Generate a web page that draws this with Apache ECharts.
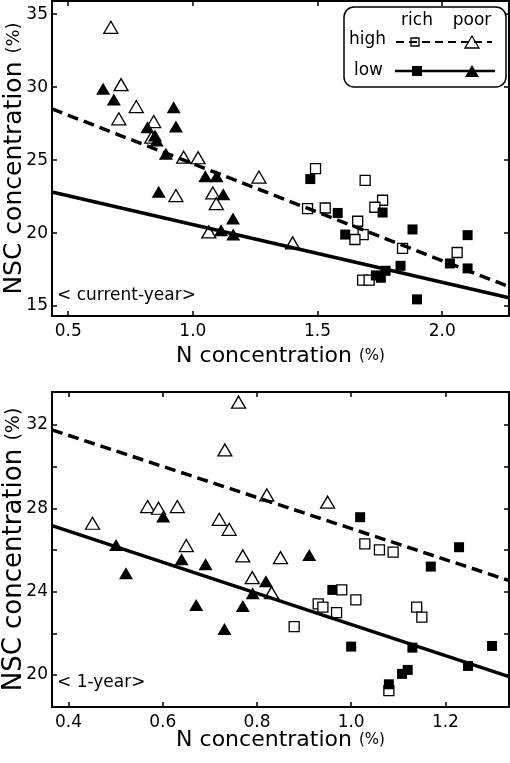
<!DOCTYPE html>
<html><head><meta charset="utf-8">
<script src="https://cdn.jsdelivr.net/npm/echarts@6/dist/echarts.min.js"></script>
<style>html,body{margin:0;padding:0;background:#fff}#c{width:510px;height:763px}</style>
</head><body><div id="c"></div>
<script>
// ---------- data ----------
const topXTicks = [0.5, 1.0, 1.5, 2.0];
const topYTicks = [15, 20, 25, 30, 35];
const botXTicks = [0.4, 0.6, 0.8, 1.0, 1.2];
const botYTicks = [20, 22, 24, 26, 28, 30, 32];
const botYLabels = [20, 24, 28, 32];

// current-year panel
const topHighPoor = [[0.671,34.1],[0.712,30.17],[0.703,27.83],[0.773,28.67],[0.843,27.64],[0.835,26.57],[0.963,25.2],[1.021,25.16],[0.932,22.57],[1.080,22.75],[1.094,22.02],[1.064,20.08],[1.265,23.84],[1.400,19.33]];
const topLowPoor = [[0.640,29.88],[0.683,29.15],[0.818,27.25],[0.848,26.69],[0.855,26.35],[0.892,25.44],[0.923,28.62],[0.932,27.30],[0.863,22.84],[1.050,23.89],[1.095,23.89],[1.122,22.66],[1.161,21.0],[1.113,20.2],[1.162,19.9]];
const topHighRich = [[1.492,24.41],[1.460,21.68],[1.531,21.72],[1.691,23.61],[1.761,22.25],[1.730,21.77],[1.661,20.81],[1.683,19.9],[1.650,19.56],[1.841,18.95],[1.681,16.78],[1.707,16.78],[2.060,18.67]];
const topLowRich = [[1.471,23.70],[1.581,21.38],[1.611,19.9],[1.761,21.41],[1.881,20.25],[1.833,17.76],[1.734,17.1],[1.754,16.94],[1.773,17.42],[1.899,15.46],[2.031,17.92],[2.102,19.86],[2.102,17.58]];
const topLineX = [0.435, 2.268];
const topHighLineY = [28.51, 16.33];
const topLowLineY = [22.81, 15.57];

// 1-year panel
const botHighPoor = [[0.451,27.28],[0.568,28.08],[0.591,28.0],[0.631,28.08],[0.650,26.21],[0.720,27.47],[0.741,26.99],[0.732,30.80],[0.761,33.09],[0.770,25.71],[0.790,24.67],[0.821,28.64],[0.831,23.95],[0.850,25.63],[0.950,28.29]];
const botLowPoor = [[0.501,26.24],[0.522,24.88],[0.601,27.60],[0.640,25.55],[0.691,25.31],[0.671,23.36],[0.731,22.21],[0.770,23.31],[0.791,23.92],[0.819,24.50],[0.911,25.76]];
const botHighRich = [[0.879,22.32],[0.930,23.41],[0.940,23.25],[0.969,22.99],[0.980,24.08],[1.010,23.60],[1.029,26.29],[1.060,26.0],[1.089,25.89],[1.139,23.25],[1.150,22.77],[1.080,19.25]];
const botLowRich = [[0.960,24.08],[1.019,27.57],[1.000,21.36],[1.130,21.31],[1.169,25.20],[1.229,26.13],[1.248,20.43],[1.299,21.39],[1.108,20.05],[1.120,20.24],[1.080,19.55]];
const botLineX = [0.365, 1.335];
const botHighLineY = [31.76, 24.53];
const botLowLineY = [27.17, 19.92];

// ---------- chart ----------
const FF = 'DejaVu Sans';
const K = '#000';
const zip = (xs, ys) => xs.map((x, i) => [x, ys[i]]);

function xAxes(gi, min, max, ticks, nameGap) {
  const line = {show: true, onZero: false, lineStyle: {color: K, width: 2}};
  const tick = {show: true, inside: true, length: 5, lineStyle: {color: K, width: 1.5}, customValues: ticks};
  return [
    {type: 'value', gridIndex: gi, min, max, position: 'bottom', axisLine: line, axisTick: tick,
     splitLine: {show: false},
     axisLabel: {customValues: ticks, formatter: v => Number(v).toFixed(1), fontSize: 17, color: K, fontFamily: FF, margin: 7},
     name: 'N concentration {p|(%)}', nameLocation: 'middle', nameGap, nameMoveOverlap: false,
     nameTextStyle: {fontSize: 22, color: K, fontFamily: FF, rich: {p: {fontSize: 15, color: K, fontFamily: FF}}}},
    {type: 'value', gridIndex: gi, min, max, position: 'top', axisLine: line, axisTick: tick,
     splitLine: {show: false}, axisLabel: {show: false}}
  ];
}
function yAxes(gi, min, max, ticks, labels, nameSize, pSize, nameGap) {
  const line = {show: true, onZero: false, lineStyle: {color: K, width: 2}};
  const tick = {show: true, inside: true, length: 5, lineStyle: {color: K, width: 1.5}, customValues: ticks};
  return [
    {type: 'value', gridIndex: gi, min, max, position: 'left', axisLine: line, axisTick: tick,
     splitLine: {show: false},
     axisLabel: {customValues: labels, formatter: v => String(Math.round(v)), fontSize: 17, color: K, fontFamily: FF, margin: 4},
     name: 'NSC concentration {p|(%)}', nameLocation: 'middle', nameGap, nameMoveOverlap: false,
     nameTextStyle: {fontSize: nameSize, color: K, fontFamily: FF, rich: {p: {fontSize: pSize, color: K, fontFamily: FF}}}},
    {type: 'value', gridIndex: gi, min, max, position: 'right', axisLine: line, axisTick: tick,
     splitLine: {show: false}, axisLabel: {show: false}}
  ];
}

function pts(xi, yi, data, kind) {
  const tri = kind.indexOf('tri') >= 0, open = kind.indexOf('open') >= 0;
  return {type: 'scatter', xAxisIndex: xi, yAxisIndex: yi, data,
    symbol: tri ? 'triangle' : 'rect', symbolSize: tri ? [14, 12] : [10, 10],
    itemStyle: open ? {color: '#fff', borderColor: K, borderWidth: 1.3, opacity: 1} : {color: K, opacity: 1},
    emphasis: {disabled: true}, silent: true, z: 2};
}
function reg(xi, yi, data, dashed) {
  return {type: 'line', xAxisIndex: xi, yAxisIndex: yi, data, symbol: 'none', showSymbol: false,
    lineStyle: {color: K, width: 3.5, type: dashed ? [11, 6] : 'solid'}, silent: true, z: 5, clip: true};
}

// legend glyphs
function triPts(cx, cy, w, h) { return [[cx - w / 2, cy + h / 2], [cx + w / 2, cy + h / 2], [cx, cy - h / 2]]; }
const legend = [
  {type: 'rect', shape: {x: 344, y: 7, width: 162, height: 80, r: 10}, style: {fill: '#fff', stroke: K, lineWidth: 1.5}, z: 10},
  {type: 'text', style: {text: 'rich', x: 417, y: 21, align: 'center', verticalAlign: 'middle', font: '17px "DejaVu Sans"', fill: K}, z: 11},
  {type: 'text', style: {text: 'poor', x: 472, y: 21, align: 'center', verticalAlign: 'middle', font: '17px "DejaVu Sans"', fill: K}, z: 11},
  {type: 'text', style: {text: 'high', x: 349, y: 40, align: 'left', verticalAlign: 'middle', font: '17px "DejaVu Sans"', fill: K}, z: 11},
  {type: 'text', style: {text: 'low', x: 354, y: 71, align: 'left', verticalAlign: 'middle', font: '17px "DejaVu Sans"', fill: K}, z: 11},
  {type: 'rect', shape: {x: 411, y: 38, width: 8, height: 8}, style: {fill: '#fff', stroke: K, lineWidth: 1.3}, z: 11},
  {type: 'polygon', shape: {points: triPts(472, 42, 14, 12)}, style: {fill: '#fff', stroke: K, lineWidth: 1.3}, z: 11},
  {type: 'line', shape: {x1: 396, y1: 42, x2: 492, y2: 42}, style: {stroke: K, lineWidth: 2, lineDash: [8, 5]}, z: 12},
  {type: 'line', shape: {x1: 395, y1: 71, x2: 495, y2: 71}, style: {stroke: K, lineWidth: 2.5}, z: 11},
  {type: 'rect', shape: {x: 412, y: 66, width: 10, height: 10}, style: {fill: K}, z: 12},
  {type: 'polygon', shape: {points: triPts(472, 71, 14, 12)}, style: {fill: K}, z: 12},
  {type: 'text', style: {text: '< current-year>', x: 57, y: 296, align: 'left', verticalAlign: 'middle', font: '17px "DejaVu Sans"', fill: K}, z: 11},
  {type: 'text', style: {text: '< 1-year>', x: 57, y: 683, align: 'left', verticalAlign: 'middle', font: '17px "DejaVu Sans"', fill: K}, z: 11}
];

const chart = echarts.init(document.getElementById('c'), null, {renderer: 'canvas'});
chart.setOption({
  animation: false,
  backgroundColor: '#fff',
  grid: [
    {left: 52, top: 1, width: 457, height: 315, containLabel: false, outerBoundsMode: 'none'},
    {left: 52, top: 392, width: 457, height: 315, containLabel: false, outerBoundsMode: 'none'}
  ],
  xAxis: [...xAxes(0, 0.435, 2.268, topXTicks, 29), ...xAxes(1, 0.365, 1.335, botXTicks, 22)],
  yAxis: [...yAxes(0, 14.32, 35.9, topYTicks, topYTicks, 25, 18, 25), ...yAxes(1, 18.46, 33.58, botYTicks, botYLabels, 26, 19, 25)],
  series: [
    pts(0, 0, topHighPoor, 'open tri'),
    pts(0, 0, topLowPoor, 'fill tri'),
    pts(0, 0, topHighRich, 'open sq'),
    pts(0, 0, topLowRich, 'fill sq'),
    reg(0, 0, zip(topLineX, topHighLineY), true),
    reg(0, 0, zip(topLineX, topLowLineY), false),
    pts(2, 2, botHighPoor, 'open tri'),
    pts(2, 2, botLowPoor, 'fill tri'),
    pts(2, 2, botHighRich, 'open sq'),
    pts(2, 2, botLowRich, 'fill sq'),
    reg(2, 2, zip(botLineX, botHighLineY), true),
    reg(2, 2, zip(botLineX, botLowLineY), false)
  ],
  graphic: legend
});
</script></body></html>
